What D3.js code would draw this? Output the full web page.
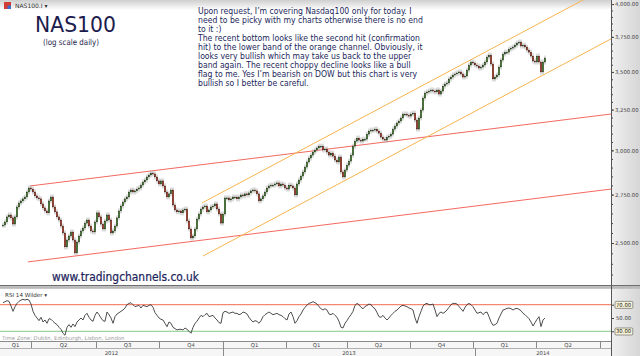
<!DOCTYPE html>
<html><head><meta charset="utf-8">
<script src="https://cdn.jsdelivr.net/npm/d3@7"></script>
<style>html,body{margin:0;padding:0;background:#fff;overflow:hidden}svg{display:block}</style>
</head><body><svg id="c" width="640" height="356"></svg>
<script>
// ---------------- DATA ----------------
const symbol = "NAS100.I";
const title = "NAS100";
const subtitle = "(log scale daily)";
const site = "www.tradingchannels.co.uk";
const rsiName = "RSI 14 Wilder";
const timeZone = "Time Zone: Dublin, Edinburgh, Lisbon, London";
const noteLines = [
  "Upon request, I\u2019m covering Nasdaq100 only for today. I",
  "need to be picky with my charts otherwise there is no end",
  "to it :)",
  "The recent bottom looks like the second hit (confirmation",
  "hit) to the lower band of the orange channel. Obviously, it",
  "looks very bullish which may take us back to the upper",
  "band again. The recent choppy decline looks like a bull",
  "flag to me. Yes I\u2019m bearish on DOW but this chart is very",
  "bullish so I better be careful."
];
// trading-day index of first close, and days between closes
const firstDay = 32;
const dayStep = 2;
const closes = [
2590,2606,2632,2642,2627,2595,2632,2684,2705,2716,
2727,2737,2764,2786,2780,2764,2743,2732,2727,2700,
2679,2663,2653,2716,2737,2684,2658,2632,2616,2585,
2550,2481,2515,2535,2555,2515,2452,2505,2535,2560,
2575,2600,2616,2585,2560,2555,2606,2653,2632,2595,
2570,2611,2642,2616,2550,2560,2585,2627,2663,2689,
2710,2727,2737,2764,2775,2764,2770,2780,2786,2802,
2819,2830,2847,2858,2869,2864,2847,2825,2808,2825,
2797,2764,2737,2754,2775,2694,2668,2658,2663,2653,
2668,2673,2611,2570,2525,2535,2570,2621,2647,2673,
2684,2689,2658,2668,2684,2689,2700,2673,2647,2600,
2647,2732,2732,2721,2727,2737,2737,2727,2737,2748,
2743,2754,2748,2759,2770,2775,2770,2754,2716,2727,
2743,2764,2786,2797,2802,2802,2808,2814,2797,2808,
2802,2786,2780,2802,2797,2786,2748,2808,2830,2852,
2875,2903,2932,2955,2972,2990,3002,3014,3025,3025,
3002,3008,2990,2972,2984,2966,2943,2932,2961,2875,
2847,2886,2914,2937,2972,3025,3055,3073,3061,3055,
3067,3067,3097,3116,3122,3122,3128,3116,3103,3079,
3067,3061,3079,3085,3097,3128,3147,3166,3178,3197,
3222,3222,3215,3209,3222,3228,3184,3128,3197,3247,
3325,3358,3365,3371,3378,3371,3365,3378,3351,3371,
3404,3418,3425,3452,3465,3479,3486,3493,3500,3486,
3465,3472,3513,3548,3569,3562,3548,3541,3527,3534,
3548,3569,3604,3618,3555,3452,3465,3479,3534,3583,
3625,3639,3639,3661,3668,3676,3690,3705,3712,3683,
3690,3676,3654,3639,3611,3576,3569,3611,3569,3500,
3569,3597];
const rsiValues = [
73,74.5,76,75,68,60,67,72,75,77,
78,77,78,77,71,60,54,50,46,51,
44,47,42,49,48,45,42,40,36,33,
27,24,36,40,36,41,37,44,47,50,
47,54,57,51,47,45,54,59,55,50,
46,45,59,55,50,42,52,56,58,60,
62,65,70,72,73,70,67,68,69,65,
69,68,67,69,70,66,58,54,50,48,
47,42,37,44,42,36,34,32,33,33,
32,35,33,30,27,36,42,45,50,54,
52,55,57,52,53,54,50,47,43,42,
58,60,59,57,58,59,57,57,55,56,
59,58,56,51,47,44,46,45,42,46,
52,55,57,59,57,55,56,57,55,54,
52,49,47,56,59,52,42,46,52,56,
62,66,69.5,72,73,74.5,73,71,67,64,
62,64,62,56,55,57,54,51,45,36,
35,42,46,51,55,60,69,72,70,66,
64,67,69,71,70,66,64,58,52,51,
54,50,47,50,54,57,60,62,65,68,
69,68,67,65,64,62,50,42,52,60,
68,71,72,70,70,71,62,52,57,59,
57,59,62,66,70,72,72,71,67,64,
60,66,70,72,70,67,62,57,58,59,
55,58,59,52,44,39,40,42,50,56,
62,63,64.5,65,64,62,64,64.5,63,61,
57,55,52,49,44,38,43,48,52,37,
47,50];
const priceTicks = [2500, 2750, 3000, 3250, 3500, 3750, 4000];
const priceMinorStep = 50;
const rsiTicks = [30, 50, 70];
const rsiBoxed = [30, 70];
const rsiOverbought = 70, rsiOversold = 30;
const quarterBreaks = [60, 125, 188, 252, 315, 376, 439, 502, 565, 629];
const quarterLabels = ["Q1","Q2","Q3","Q4","Q1","Q1","Q2","Q4","Q1","Q2"];
const yearBreaks = [252, 504];
const yearLabels = ["2012","2013","2014"];
// trend lines: [startDay, startPrice, endDay, endPrice]
const redChannel = [[59, 2797, 640, 3222], [57, 2409, 640, 2780]];
const orangeChannel = [[231, 2705, 620, 4066], [232, 2437, 640, 3735]];
const dayDomain = [29, 640];
const priceDomain = [2302, 4032];
const rsiDomain = [15.4, 93.6];

// ---------------- LAYOUT ----------------
const W = 640, H = 356, AX = 611;
const P = {top: 0, bottom: 285};
const R = {top: 289, bottom: 341};
const Q = {top: 341, bottom: 348};
const Y = {top: 348, bottom: 356};
const navy = "#221f5c";

const svg = d3.select("#c");
const defs = svg.append("defs");
const g1 = defs.append("linearGradient").attr("id","topg").attr("x1",0).attr("x2",0).attr("y1",0).attr("y2",1);
g1.append("stop").attr("offset","0").attr("stop-color","#cfcfcf");
g1.append("stop").attr("offset","1").attr("stop-color","#ffffff");
const g2 = defs.append("linearGradient").attr("id","axg").attr("x1",0).attr("x2",1).attr("y1",0).attr("y2",0);
g2.append("stop").attr("offset","0").attr("stop-color","#f0f0f0");
g2.append("stop").attr("offset","1").attr("stop-color","#d6d6d6");
defs.append("clipPath").attr("id","pclip").append("rect").attr("x",0).attr("y",0).attr("width",AX).attr("height",P.bottom);
defs.append("clipPath").attr("id","rclip").append("rect").attr("x",0).attr("y",R.top).attr("width",AX).attr("height",R.bottom-R.top);

svg.append("rect").attr("width",W).attr("height",H).attr("fill","#fff");
svg.append("rect").attr("x",0).attr("y",0).attr("width",AX).attr("height",10).attr("fill","url(#topg)");

const x = d3.scaleLinear().domain(dayDomain).range([0, AX]);
const y = d3.scaleLog().domain(priceDomain).range([P.bottom, P.top]);
const yr = d3.scaleLinear().domain(rsiDomain).range([R.bottom, R.top]);

// channels
const plot = svg.append("g").attr("clip-path","url(#pclip)");
plot.selectAll(".red").data(redChannel).join("line")
  .attr("x1",d=>x(d[0])).attr("y1",d=>y(d[1])).attr("x2",d=>x(d[2])).attr("y2",d=>y(d[3]))
  .attr("stroke","#f26a5e").attr("stroke-width",1);
plot.selectAll(".org").data(orangeChannel).join("line")
  .attr("x1",d=>x(d[0])).attr("y1",d=>y(d[1])).attr("x2",d=>x(d[2])).attr("y2",d=>y(d[3]))
  .attr("stroke","#f7b54f").attr("stroke-width",1);

// candles
const candles = closes.map((c,i)=>({t: firstDay + i*dayStep, o: i ? closes[i-1] : c, c}));
plot.append("g").selectAll("line").data(candles).join("line")
  .attr("x1",d=>x(d.t)).attr("x2",d=>x(d.t))
  .attr("y1",d=>y(Math.max(d.o,d.c))-2.5).attr("y2",d=>y(Math.min(d.o,d.c))+2.5)
  .attr("stroke","#a8a8a8").attr("stroke-width",1).attr("opacity",0.8);
plot.append("g").selectAll("rect").data(candles).join("rect")
  .attr("x",d=>x(d.t)-0.8).attr("width",1.6)
  .attr("y",d=>y(Math.max(d.o,d.c)))
  .attr("height",d=>Math.max(1, Math.abs(y(d.o)-y(d.c))))
  .attr("fill",d=>d.c>=d.o ? "#448a28" : "#c2361f")
  .attr("stroke","#222").attr("stroke-width",0.35);

// texts
const txtG = svg.append("g");
function fit(sel, target){ const w = sel.node().getBBox().width; return target / w; }
txtG.append("rect").attr("x",4).attr("y",2).attr("width",7).attr("height",7).attr("fill","#d23c32");
txtG.append("rect").attr("x",7.5).attr("y",5.5).attr("width",3.5).attr("height",3.5).attr("fill","#3d6fd0");
txtG.append("text").attr("x",15).attr("y",8).attr("font-family","DejaVu Sans").attr("font-size",6).attr("fill","#333").text(symbol + " \u25BE");

const tg = svg.append("g");
const tt = tg.append("text").attr("x",0).attr("y",0).attr("font-family","DejaVu Sans").attr("font-size",21.5).attr("fill","#1c1b4d").text(title);
tg.attr("transform",`translate(35,31.5) scale(${fit(tt,81)},1)`);
const sg = svg.append("g");
const st = sg.append("text").attr("font-family","DejaVu Sans").attr("font-size",8.2).attr("fill","#1c1b4d").text(subtitle);
sg.attr("transform",`translate(43,44.5) scale(${fit(st,56)},1)`);

const ng = svg.append("g");
const nt = ng.selectAll("text").data(noteLines).join("text")
  .attr("x",0).attr("y",(d,i)=>i*9.05)
  .attr("font-family","DejaVu Sans").attr("font-size",8.5).attr("fill",navy).text(d=>d);
const ns = 214 / nt.nodes()[0].getComputedTextLength();
ng.attr("transform",`translate(198,14) scale(${ns},1)`);

const ug = svg.append("g");
const ut = ug.append("text").attr("font-family","DejaVu Sans").attr("font-size",12.3).attr("fill",navy).attr("stroke",navy).attr("stroke-width",0.25).text(site);
ug.attr("transform",`translate(52,281) scale(${fit(ut,148)},1)`);

// separator
svg.append("rect").attr("x",0).attr("y",285).attr("width",W).attr("height",1.2).attr("fill","#6e6e6e");
svg.append("rect").attr("x",0).attr("y",286.2).attr("width",W).attr("height",2.6).attr("fill","#b9b9b9");

// RSI pane
const rg = svg.append("g").attr("clip-path","url(#rclip)");
rg.append("line").attr("x1",0).attr("x2",AX).attr("y1",yr(rsiOverbought)).attr("y2",yr(rsiOverbought)).attr("stroke","#f26a50").attr("stroke-width",1);
rg.append("line").attr("x1",0).attr("x2",AX).attr("y1",yr(rsiOversold)).attr("y2",yr(rsiOversold)).attr("stroke","#86c986").attr("stroke-width",1);
const rsiData = rsiValues.map((v,i)=>({t: firstDay + i*dayStep, v}));
rg.append("path").datum(rsiData)
  .attr("d", d3.line().x(d=>x(d.t)).y(d=>yr(d.v)))
  .attr("fill","none").attr("stroke","#3a3a3a").attr("stroke-width",0.9);
svg.append("text").attr("x",5).attr("y",297).attr("font-family","DejaVu Sans").attr("font-size",5.6).attr("fill","#333").text(rsiName + " \u25BE");
svg.append("text").attr("x",2).attr("y",339.5).attr("font-family","DejaVu Sans").attr("font-size",5.3).attr("fill","#9a9a9a").text(timeZone);

// bottom time axis
svg.append("rect").attr("x",0).attr("y",Q.top).attr("width",AX).attr("height",H-Q.top).attr("fill","#f6f6f6");
svg.append("line").attr("x1",0).attr("x2",AX).attr("y1",Q.top+0.5).attr("y2",Q.top+0.5).attr("stroke","#8a8a8a");
svg.append("line").attr("x1",0).attr("x2",AX).attr("y1",Y.top+0.5).attr("y2",Y.top+0.5).attr("stroke","#b0b0b0");
svg.append("g").selectAll("line").data(quarterBreaks).join("line")
  .attr("x1",d=>Math.round(x(d))+0.5).attr("x2",d=>Math.round(x(d))+0.5).attr("y1",Q.top).attr("y2",Q.bottom)
  .attr("stroke","#8a8a8a");
const qStarts = [dayDomain[0], ...quarterBreaks];
svg.append("g").selectAll("text").data(quarterLabels).join("text")
  .attr("x",(d,i)=>x((qStarts[i]+qStarts[i+1])/2)).attr("y",347)
  .attr("text-anchor","middle").attr("font-family","DejaVu Sans").attr("font-size",5.3).attr("fill","#444").text(d=>d);
svg.append("g").selectAll("line").data(yearBreaks).join("line")
  .attr("x1",d=>Math.round(x(d))+0.5).attr("x2",d=>Math.round(x(d))+0.5).attr("y1",Y.top).attr("y2",Y.bottom)
  .attr("stroke","#8a8a8a");
const yStarts = [dayDomain[0], ...yearBreaks, dayDomain[1]];
svg.append("g").selectAll("text").data(yearLabels).join("text")
  .attr("x",(d,i)=>x((yStarts[i]+yStarts[i+1])/2)).attr("y",354.5)
  .attr("text-anchor","middle").attr("font-family","DejaVu Sans").attr("font-size",5.3).attr("fill","#444").text(d=>d);

// right axis panel
svg.append("rect").attr("x",AX).attr("y",0).attr("width",W-AX).attr("height",H).attr("fill","url(#axg)");
svg.append("rect").attr("x",AX).attr("y",285).attr("width",W-AX).attr("height",1.2).attr("fill","#6e6e6e");
svg.append("rect").attr("x",AX).attr("y",286.2).attr("width",W-AX).attr("height",2.6).attr("fill","#b9b9b9");

const minor = d3.range(priceDomain[0] - priceDomain[0]%priceMinorStep + priceMinorStep, priceDomain[1], priceMinorStep);
const pm = svg.append("g").attr("transform",`translate(${AX},0)`)
  .call(d3.axisRight(y).tickValues(minor).tickSize(2).tickFormat(""));
const pa = svg.append("g").attr("transform",`translate(${AX},0)`)
  .call(d3.axisRight(y).tickValues(priceTicks).tickSize(3).tickPadding(1).tickFormat(d3.format(",.2f")));
const ra = svg.append("g").attr("transform",`translate(${AX},0)`)
  .call(d3.axisRight(yr).tickValues(rsiTicks).tickSize(3).tickPadding(2).tickFormat(d3.format(".2f")));
[pm,pa,ra].forEach(a=>{
  a.select(".domain").remove();
  a.selectAll("line").attr("stroke","#444");
  a.selectAll("text").attr("font-family","DejaVu Sans").attr("font-size",5.3).attr("fill","#444");
});
ra.selectAll(".tick").filter(d=>rsiBoxed.includes(d)).each(function(){
  const t = d3.select(this).select("text");
  const b = t.node().getBBox();
  d3.select(this).insert("rect","text").attr("x",b.x-1).attr("y",b.y-0.5).attr("width",b.width+2).attr("height",b.height+1)
    .attr("fill","#f7f3d6").attr("stroke","#555").attr("stroke-width",0.6).attr("rx",1);
  t.attr("fill","#222");
});
svg.append("line").attr("x1",AX+0.5).attr("x2",AX+0.5).attr("y1",0).attr("y2",H).attr("stroke","#555").attr("stroke-width",1);
</script></body></html>
